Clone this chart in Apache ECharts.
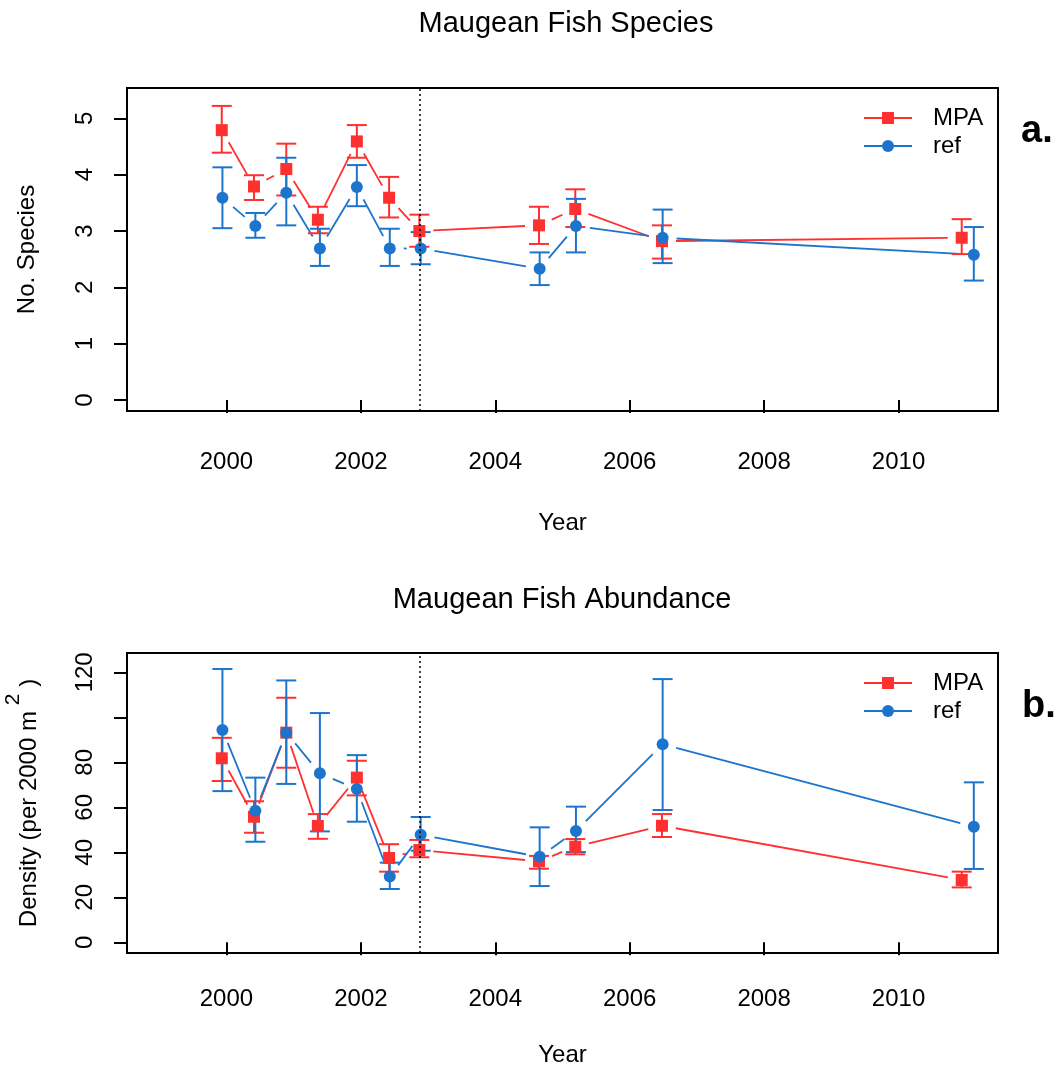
<!DOCTYPE html>
<html><head><meta charset="utf-8">
<script src="https://cdn.jsdelivr.net/npm/echarts@6/dist/echarts.min.js"></script>
<style>html,body{margin:0;padding:0;background:#fff}#c{width:1061px;height:1070px}</style>
</head><body><div id="c"></div><script>
// ---- data ----
const mpaYears = [1999.93, 2000.41, 2000.89, 2001.36, 2001.94, 2002.42, 2002.87, 2004.65, 2005.19, 2006.48, 2010.94];
const refYears = [1999.94, 2000.43, 2000.89, 2001.39, 2001.94, 2002.43, 2002.89, 2004.66, 2005.20, 2006.49, 2011.12];

const speciesMpaMean = [4.79, 3.79, 4.10, 3.20, 4.59, 3.59, 3.00, 3.10, 3.39, 2.82, 2.88];
const speciesMpaHigh = [5.22, 3.99, 4.55, 3.43, 4.88, 3.96, 3.29, 3.43, 3.74, 3.10, 3.21];
const speciesMpaLow  = [4.39, 3.55, 3.63, 2.96, 4.30, 3.24, 2.72, 2.77, 3.07, 2.51, 2.59];

const speciesRefMean = [3.59, 3.09, 3.68, 2.69, 3.78, 2.69, 2.69, 2.33, 3.09, 2.88, 2.58];
const speciesRefHigh = [4.13, 3.32, 4.30, 3.04, 4.17, 3.04, 2.98, 2.62, 3.57, 3.38, 3.07];
const speciesRefLow  = [3.05, 2.88, 3.10, 2.38, 3.44, 2.38, 2.41, 2.04, 2.62, 2.43, 2.12];

const densityMpaMean = [81.8, 55.8, 93.2, 51.7, 73.2, 37.5, 41.0, 36.0, 42.5, 51.8, 27.7];
const densityMpaHigh = [90.9, 62.7, 108.7, 57.0, 80.7, 43.6, 45.5, 38.4, 45.9, 57.0, 31.4];
const densityMpaLow  = [71.7, 48.7, 77.6, 46.0, 65.3, 31.4, 37.8, 32.7, 39.1, 46.8, 24.4];

const densityRefMean = [94.4, 58.5, 93.2, 75.1, 68.1, 29.2, 47.8, 38.0, 49.5, 88.0, 51.4];
const densityRefHigh = [121.5, 73.2, 116.4, 101.9, 83.2, 35.4, 55.7, 51.1, 60.3, 117.0, 71.1];
const densityRefLow  = [67.2, 44.7, 70.4, 49.3, 53.6, 23.7, 40.7, 25.0, 40.1, 58.8, 32.6];

const xTicks = [2000, 2002, 2004, 2006, 2008, 2010];
const speciesTicks = [0, 1, 2, 3, 4, 5];
const densityTicks = [0, 20, 40, 60, 80, 100, 120];
const densityTickLabels = [0, 20, 40, 60, 80, 120];
const breakYear = 2002.88;

// ---- styling ----
const RED = '#FF3030', BLUE = '#1C74CC';
const FONT = '"Liberation Sans", Arial, Helvetica, sans-serif';
const GAP = 14;

function pts(xs, ys) { return xs.map((x, i) => [x, ys[i]]); }
function segs(xs, ys) { const o = []; for (let i = 0; i < xs.length - 1; i++) o.push([xs[i], ys[i], xs[i + 1], ys[i + 1]]); return o; }
function bars(xs, lo, hi) { return xs.map((x, i) => [x, lo[i], hi[i]]); }

function gapLine(color, idx, data) {
  return {
    type: 'custom', xAxisIndex: idx, yAxisIndex: idx, data, silent: true, z: 2,
    encode: { x: [0, 2], y: [1, 3] },
    renderItem(params, api) {
      const a = api.coord([api.value(0), api.value(1)]);
      const b = api.coord([api.value(2), api.value(3)]);
      const dx = b[0] - a[0], dy = b[1] - a[1];
      const L = Math.hypot(dx, dy);
      if (L <= 2 * GAP) return { type: 'group', children: [] };
      const ux = dx / L, uy = dy / L;
      return { type: 'line', shape: { x1: a[0] + ux * GAP, y1: a[1] + uy * GAP, x2: b[0] - ux * GAP, y2: b[1] - uy * GAP },
               style: { stroke: color, lineWidth: 1.8 } };
    }
  };
}
function errBars(color, idx, data) {
  return {
    type: 'custom', xAxisIndex: idx, yAxisIndex: idx, data, silent: true, z: 3,
    encode: { x: 0, y: [1, 2] },
    renderItem(params, api) {
      const lo = api.coord([api.value(0), api.value(1)]);
      const hi = api.coord([api.value(0), api.value(2)]);
      const w = 10, st = { stroke: color, lineWidth: 2 };
      return { type: 'group', children: [
        { type: 'line', shape: { x1: lo[0], y1: lo[1], x2: hi[0], y2: hi[1] }, style: st },
        { type: 'line', shape: { x1: lo[0] - w, y1: lo[1], x2: lo[0] + w, y2: lo[1] }, style: st },
        { type: 'line', shape: { x1: hi[0] - w, y1: hi[1], x2: hi[0] + w, y2: hi[1] }, style: st }
      ] };
    }
  };
}
function markers(name, color, symbol, size, idx, data, extra) {
  return Object.assign({
    type: 'line', name, xAxisIndex: idx, yAxisIndex: idx, data, silent: true, z: 4,
    symbol, symbolSize: size, showSymbol: true, showAllSymbol: true,
    lineStyle: { color, width: 2, opacity: 0 }, itemStyle: { color }
  }, extra || {});
}
function xAxis(idx, margin, nameGap) {
  return {
    type: 'value', gridIndex: idx, min: 1998.52, max: 2011.48,
    name: 'Year', nameLocation: 'middle', nameGap,
    nameTextStyle: { fontSize: 24, color: '#000', fontFamily: FONT },
    axisLine: { show: false }, splitLine: { show: false },
    axisTick: { show: true, customValues: xTicks, length: 13, lineStyle: { color: '#000', width: 2 } },
    axisLabel: { customValues: xTicks, formatter: v => String(v), fontSize: 24, color: '#000', margin, fontFamily: FONT }
  };
}
function yAxis(idx, min, max, ticks, labels, name, nameGap, rich) {
  return {
    type: 'value', gridIndex: idx, min, max,
    name, nameLocation: 'middle', nameGap,
    nameTextStyle: Object.assign({ fontSize: 24, color: '#000', fontFamily: FONT }, rich ? { rich } : {}),
    axisLine: { show: false }, splitLine: { show: false },
    axisTick: { show: true, customValues: ticks, length: 13, lineStyle: { color: '#000', width: 2 } },
    axisLabel: { customValues: labels, formatter: v => String(v), rotate: 90, fontSize: 24, color: '#000', margin: 30, fontFamily: FONT }
  };
}
function legend(top) {
  return {
    data: ['MPA', 'ref'], orient: 'vertical', left: 863, top, padding: 0, selectedMode: false,
    itemWidth: 48, itemHeight: 15, itemGap: 4,
    textStyle: { fontSize: 24, color: '#000', fontFamily: FONT, padding: [0, 0, 0, 16] },
    lineStyle: { width: 2, opacity: 1 }
  };
}
const gridBase = { left: 127, right: 63, show: true, borderColor: '#000', borderWidth: 2, backgroundColor: 'transparent', containLabel: false, outerBoundsMode: 'none' };

const chart = echarts.init(document.getElementById('c'), null, { renderer: 'canvas' });
chart.setOption({
  animation: false,
  backgroundColor: '#fff',
  title: [
    { text: 'Maugean Fish Species', left: 566, top: 9, textAlign: 'center', padding: 0,
      textStyle: { fontSize: 29, fontWeight: 'normal', color: '#000', fontFamily: FONT } },
    { text: 'Maugean Fish Abundance', left: 562, top: 585, textAlign: 'center', padding: 0,
      textStyle: { fontSize: 29, fontWeight: 'normal', color: '#000', fontFamily: FONT } }
  ],
  grid: [
    Object.assign({ top: 88, height: 323 }, gridBase),
    Object.assign({ top: 653, height: 300 }, gridBase)
  ],
  xAxis: [xAxis(0, 39, 100), xAxis(1, 34, 90)],
  yAxis: [
    yAxis(0, -0.195, 5.538, speciesTicks, speciesTicks, 'No. Species', 88),
    yAxis(1, -4.76, 128.6, densityTicks, densityTickLabels, '{t|Density (per 2000 m}{s| 2}{t| )}', 86, {
      t: { fontSize: 24, fontFamily: FONT, color: '#000', verticalAlign: 'bottom', lineHeight: 38 },
      s: { fontSize: 21, fontFamily: FONT, color: '#000', verticalAlign: 'top', lineHeight: 38 }
    })
  ],
  legend: [legend(106), legend(671)],
  graphic: [
    { type: 'text', left: 1021, top: 113, style: { text: 'a.', font: 'bold 38px ' + FONT, fill: '#000' } },
    { type: 'text', left: 1022, top: 688, style: { text: 'b.', font: 'bold 38px ' + FONT, fill: '#000' } }
  ],
  series: [
    // panel a
    gapLine(RED, 0, segs(mpaYears, speciesMpaMean)),
    errBars(RED, 0, bars(mpaYears, speciesMpaLow, speciesMpaHigh)),
    markers('MPA', RED, 'rect', 12, 0, pts(mpaYears, speciesMpaMean), {
      markLine: { silent: true, symbol: ['none', 'none'], label: { show: false },
        lineStyle: { color: '#000', type: [2, 3], width: 1.5 }, data: [{ xAxis: breakYear }] }
    }),
    gapLine(BLUE, 0, segs(refYears, speciesRefMean)),
    errBars(BLUE, 0, bars(refYears, speciesRefLow, speciesRefHigh)),
    markers('ref', BLUE, 'circle', 12, 0, pts(refYears, speciesRefMean)),
    // panel b
    gapLine(RED, 1, segs(mpaYears, densityMpaMean)),
    errBars(RED, 1, bars(mpaYears, densityMpaLow, densityMpaHigh)),
    markers('MPA', RED, 'rect', 12, 1, pts(mpaYears, densityMpaMean), {
      markLine: { silent: true, symbol: ['none', 'none'], label: { show: false },
        lineStyle: { color: '#000', type: [2, 3], width: 1.5 }, data: [{ xAxis: breakYear }] }
    }),
    gapLine(BLUE, 1, segs(refYears, densityRefMean)),
    errBars(BLUE, 1, bars(refYears, densityRefLow, densityRefHigh)),
    markers('ref', BLUE, 'circle', 12, 1, pts(refYears, densityRefMean))
  ]
});
</script></body></html>
